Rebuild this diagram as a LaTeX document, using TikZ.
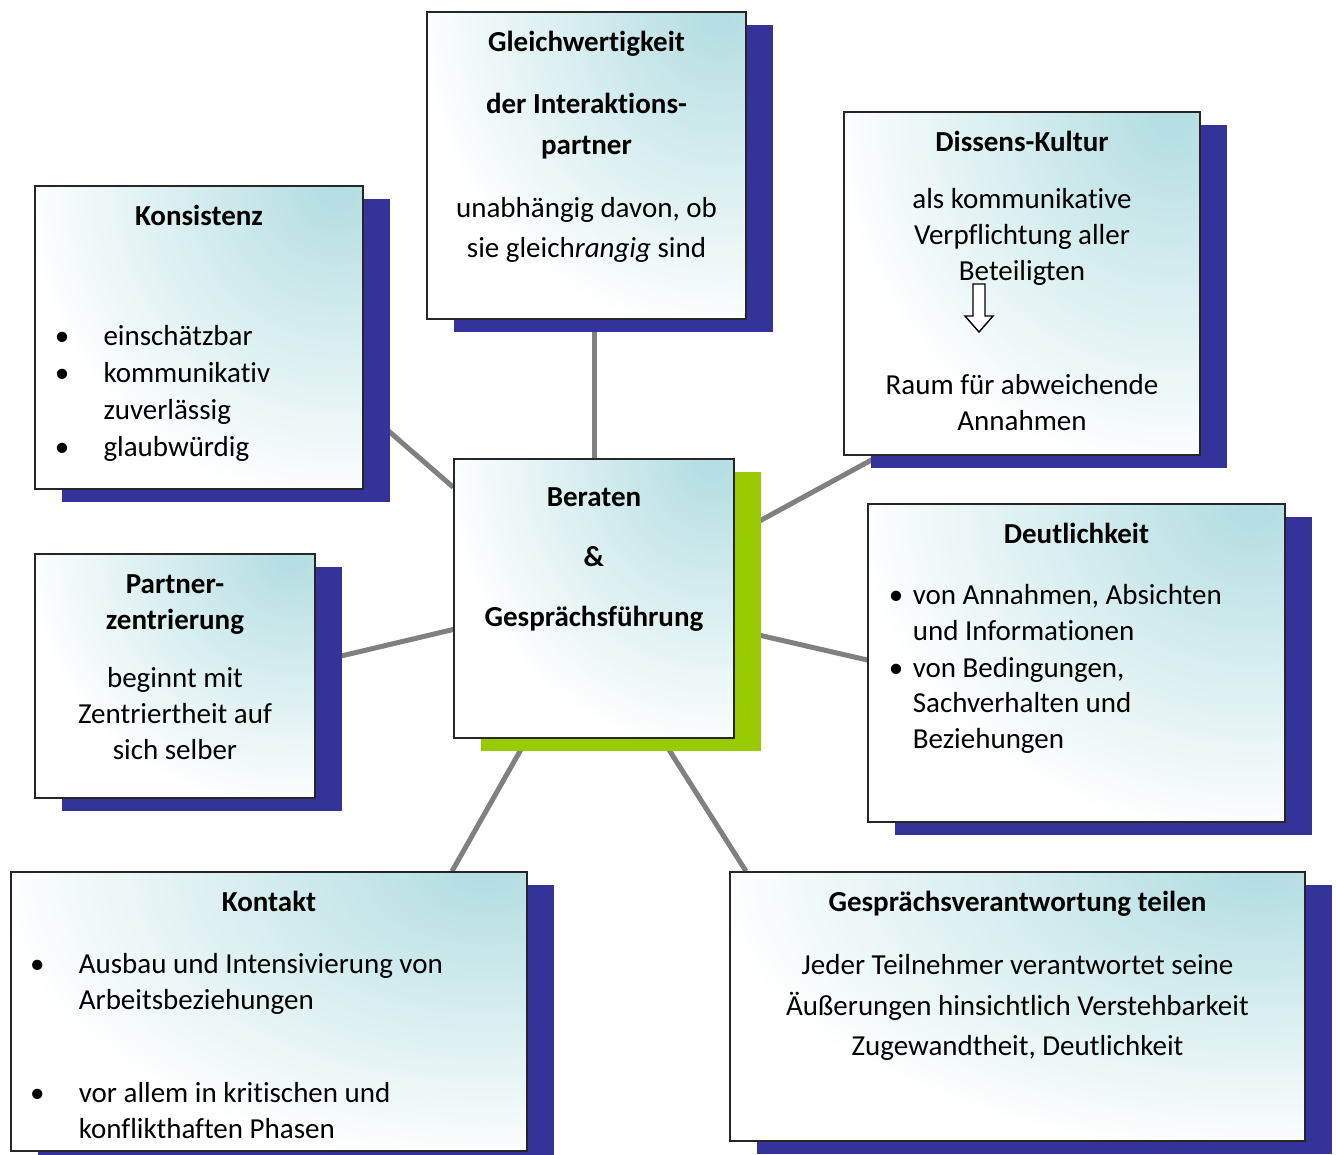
\documentclass[tikz,border=0pt]{standalone}
\usepackage{fontspec}
\setmainfont{Carlito}[Ligatures=NoCommon]
\usepackage{tikz}
\usetikzlibrary{shadows,backgrounds,calc}
\definecolor{boxteal}{RGB}{178,221,225}
\definecolor{schattenblau}{RGB}{51,51,153}
\definecolor{kiwi}{RGB}{153,204,0}
\definecolor{liniengrau}{RGB}{128,128,128}
\newcommand{\feld}[3]{\parbox[c][#2][t]{#1}{\parskip=0pt\vspace*{8.3pt}#3}}
\newcommand{\mitte}[1]{\makebox[\linewidth][c]{#1}}
\newcommand{\punkt}[2]{\hspace*{#1}\makebox[#2][l]{\textbullet}}
\tikzset{
  panel/.style={draw=black!85, line width=0.9pt, inner sep=0pt, fill=white,
    font=\fontsize{16.5}{20.4}\selectfont,
    path picture={
      \shade [inner color=boxteal, outer color=white]
        let \p1=(path picture bounding box.north east), \p2=(path picture bounding box.south west) in
        ($(\p1)+(-0.08*\x1+0.08*\x2,0)$) ellipse [x radius={0.95*(\x1-\x2)}, y radius={1.05*(\y1-\y2)}];
    },
    drop shadow={shadow xshift=0.54cm, shadow yshift=-0.26cm, opacity=1, fill=#1}},
  panel/.default=schattenblau,
  verbindung/.style={draw=liniengrau, line width=0.1cm}
}

\begin{document}
\begin{tikzpicture}[x=0.02cm,y=-0.02cm]
      \useasboundingbox (0,0) rectangle (1336,1155);

      \node [panel=kiwi] (beraten) at (594,598.5) {\feld{5.6cm}{5.58cm}{\centering\vspace*{4.5pt}
        \strut\textbf{Beraten}\\[13.6pt]\textbf{\&}\\[13.6pt]\textbf{Gesprächsführung}}};

      \node [panel] (gleich) at (586.5,165.5) {\feld{6.38cm}{6.14cm}{\centering
        \strut\textbf{Gleichwertigkeit}\\[14.7pt]
        \textbf{der Interaktions-}\\[2.8pt]
        \textbf{partner}\\[15.9pt]
        unabhängig davon, ob\\[2.3pt]
        sie gleich\textit{rangig} sind}};

      \node [panel] (konsistenz) at (199,337.5) {\feld{6.56cm}{6.06cm}{\raggedright
        \mitte{\strut\textbf{Konsistenz}}\\[48pt]
        \punkt{11.3pt}{27.7pt}einschätzbar\\[0.5pt]
        \punkt{11.3pt}{27.7pt}kommunikativ\\[0.5pt]
        \hspace*{39pt}zuverlässig\\[0.5pt]
        \punkt{11.3pt}{27.7pt}glaubwürdig}};

      \node [panel] (dissens) at (1022,283.5) {\feld{7.12cm}{6.86cm}{\centering
        \strut\textbf{Dissens-Kultur}\\[11.9pt]
        als kommunikative\\
        Verpflichtung aller\\
        Beteiligten\\[44.8pt]
        Raum für abweichende\\
        Annahmen}};

      \node [panel] (partner) at (175,676) {\feld{5.6cm}{4.88cm}{\centering
        \strut\textbf{Partner-}\\
        \textbf{zentrierung}\\[12.5pt]
        beginnt mit\\
        Zentriertheit auf\\
        sich selber}};

      \node [panel] (deutlich) at (1076.5,663) {\feld{8.34cm}{6.36cm}{\raggedright
        \mitte{\strut\textbf{Deutlichkeit}}\\[14.2pt]
        \punkt{11.9pt}{13.6pt}von Annahmen, Absichten\\
        \hspace*{25.5pt}und Informationen\\[0.5pt]
        \punkt{11.9pt}{13.6pt}von Bedingungen,\\
        \hspace*{25.5pt}Sachverhalten und\\
        \hspace*{25.5pt}Beziehungen}};

      \node [panel] (kontakt) at (269,1011.5) {\feld{10.32cm}{5.58cm}{\raggedright
        \mitte{\strut\textbf{Kontakt}}\\[14.7pt]
        \punkt{10.8pt}{27.8pt}Ausbau und Intensivierung von\\
        \hspace*{38.6pt}Arbeitsbeziehungen\\[32.9pt]
        \punkt{10.8pt}{27.8pt}vor allem in kritischen und\\
        \hspace*{38.6pt}konflikthaften Phasen}};

      \node [panel] (teilen) at (1017.5,1006.5) {\feld{11.5cm}{5.38cm}{\centering
        \strut\textbf{Gesprächsverantwortung teilen}\\[15.3pt]
        Jeder Teilnehmer verantwortet seine\\[2.8pt]
        Äußerungen hinsichtlich Verstehbarkeit\\[2.8pt]
        Zugewandtheit, Deutlichkeit}};

      \draw [fill=white, line width=0.8pt] (973,284) -- (985,284) -- (985,316) -- (993,316)
        -- (979,332) -- (965,316) -- (973,316) -- cycle;

      \begin{scope}[on background layer]
        \draw [verbindung] (beraten.north) -- (beraten.north |- gleich.south);
        \draw [verbindung] ([shift={(0,29)}]beraten.north west) -- ([shift={(0,72)}]konsistenz.east);
        \draw [verbindung] ([shift={(0,-64)}]beraten.east) -- ([shift={(36,0)}]dissens.south west);
        \draw [verbindung] ([shift={(0,31)}]beraten.west) -- ([shift={(0,-14)}]partner.east);
        \draw [verbindung] ([shift={(0,31)}]beraten.east) -- ([shift={(0,-3)}]deutlich.west);
        \draw [verbindung] ([shift={(-67,0)}]beraten.south) -- ([shift={(183,0)}]kontakt.north);
        \draw [verbindung] ([shift={(68,0)}]beraten.south) -- ([shift={(-271.5,0)}]teilen.north);
      \end{scope}
    \end{tikzpicture}
\end{document}
